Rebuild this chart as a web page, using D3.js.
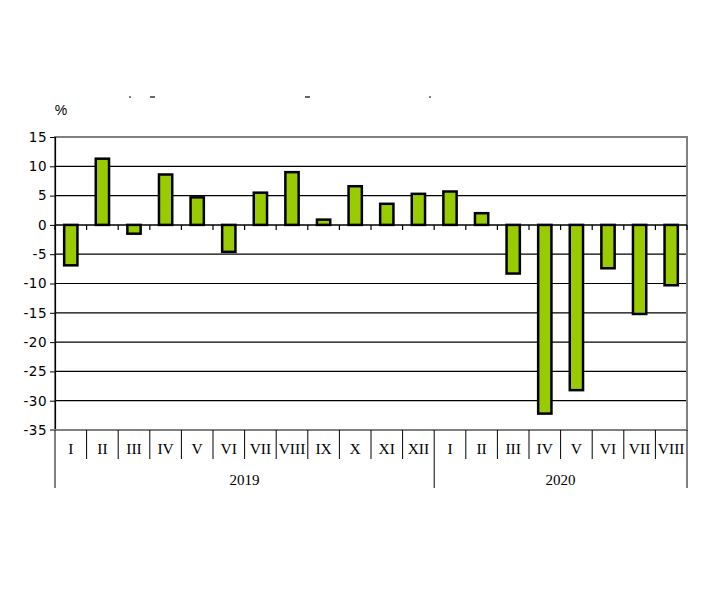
<!DOCTYPE html>
<html><head><meta charset="utf-8">
<script src="https://cdn.jsdelivr.net/npm/d3@7"></script>
<style>body{margin:0;background:#fff}</style>
</head><body>
<svg id="c" width="710" height="599"></svg>
<script>
const months = ["I","II","III","IV","V","VI","VII","VIII","IX","X","XI","XII","I","II","III","IV","V","VI","VII","VIII"];
const years = ["2019","2020"];
const yearCounts = [12, 8];
const values = [-6.9, 11.3, -1.5, 8.6, 4.7, -4.6, 5.5, 9.0, 0.9, 6.6, 3.6, 5.3,
                5.7, 2.0, -8.3, -32.2, -28.2, -7.4, -15.2, -10.3];
const yTicks = [15, 10, 5, 0, -5, -10, -15, -20, -25, -30, -35];

const svg = d3.select("#c");
const L = 55, R = 687, T = 137, B = 430;
const x = d3.scaleBand().domain(d3.range(months.length)).range([L, R]).paddingInner(0.58).paddingOuter(0.29);
const xs = d3.scaleLinear().domain([0, months.length]).range([L, R]);
const y = d3.scaleLinear().domain([-35, 15]).range([B, T]);

// gridlines
svg.append("g").selectAll("line").data(yTicks.filter(v => v !== 15 && v !== -35 && v !== 0)).join("line")
  .attr("x1", L).attr("x2", R).attr("y1", d => y(d)).attr("y2", d => y(d))
  .attr("stroke", "#000").attr("stroke-width", 1.2);
// plot border (gray)
svg.append("rect").attr("x", L).attr("y", T).attr("width", R - L).attr("height", B - T)
  .attr("fill", "none").attr("stroke", "#808080").attr("stroke-width", 2);

// y axis
const yAxis = d3.axisLeft(y).tickValues(yTicks).tickSize(5).tickFormat(d => d < 0 ? "-" + Math.abs(d) : d);
const ga = svg.append("g").attr("transform", `translate(${L},0)`).call(yAxis);
ga.select(".domain").attr("stroke", "#000").attr("stroke-width", 1.2);
ga.selectAll(".tick line").attr("stroke", "#000");
ga.selectAll("text").attr("font-family", "DejaVu Sans, Verdana, sans-serif").attr("font-size", 13.5)
  .attr("fill", "#000").attr("x", -8).style("letter-spacing", "0.5px");

// bars
svg.append("g").selectAll("rect").data(values).join("rect")
  .attr("x", (d, i) => x(i))
  .attr("width", x.bandwidth())
  .attr("y", d => y(Math.max(0, d)))
  .attr("height", d => Math.abs(y(d) - y(0)))
  .attr("fill", "#99cc00").attr("stroke", "#000").attr("stroke-width", 2.5);

// zero line with ticks
svg.append("line").attr("x1", L).attr("x2", R).attr("y1", y(0)).attr("y2", y(0)).attr("stroke", "#000").attr("stroke-width", 1.5);
svg.append("g").selectAll("line").data(d3.range(months.length + 1)).join("line")
  .attr("x1", d => xs(d)).attr("x2", d => xs(d)).attr("y1", y(0)).attr("y2", y(0) + 5)
  .attr("stroke", "#000").attr("stroke-width", 1.2);

// category axis below
const catG = svg.append("g");
catG.append("line").attr("x1", L - 5).attr("x2", R).attr("y1", B).attr("y2", B).attr("stroke", "#808080").attr("stroke-width", 2);
let yb = [0];
yearCounts.forEach((c, i) => yb.push(yb[i] + c));
catG.selectAll("line.m").data(d3.range(months.length + 1)).join("line").attr("class", "m")
  .attr("x1", d => xs(d)).attr("x2", d => xs(d))
  .attr("y1", B).attr("y2", d => yb.includes(d) ? 488 : 459)
  .attr("stroke", "#000").attr("stroke-width", 1);
catG.selectAll("text.m").data(months).join("text").attr("class", "m")
  .attr("x", (d, i) => xs(i + 0.5)).attr("y", 454).attr("text-anchor", "middle")
  .attr("font-family", "Liberation Serif, Times New Roman, serif").attr("font-size", 15.5)
  .text(d => d);
catG.selectAll("text.y").data(years).join("text").attr("class", "y")
  .attr("x", (d, i) => xs((yb[i] + yb[i + 1]) / 2)).attr("y", 485).attr("text-anchor", "middle")
  .attr("font-family", "Liberation Serif, Times New Roman, serif").attr("font-size", 15)
  .text(d => d);

// % label
svg.append("text").attr("x", 61).attr("y", 115).attr("text-anchor", "middle")
  .attr("font-family", "Liberation Sans, Arial, sans-serif").attr("font-size", 14).text("%");

// clipped title remnants
const marks = [[129, 131], [150, 155], [305, 310], [429, 431]];
svg.append("g").selectAll("line").data(marks).join("line")
  .attr("x1", d => d[0]).attr("x2", d => d[1]).attr("y1", 97).attr("y2", 97)
  .attr("stroke", "#000").attr("stroke-width", 1.2);
</script>
</body></html>
